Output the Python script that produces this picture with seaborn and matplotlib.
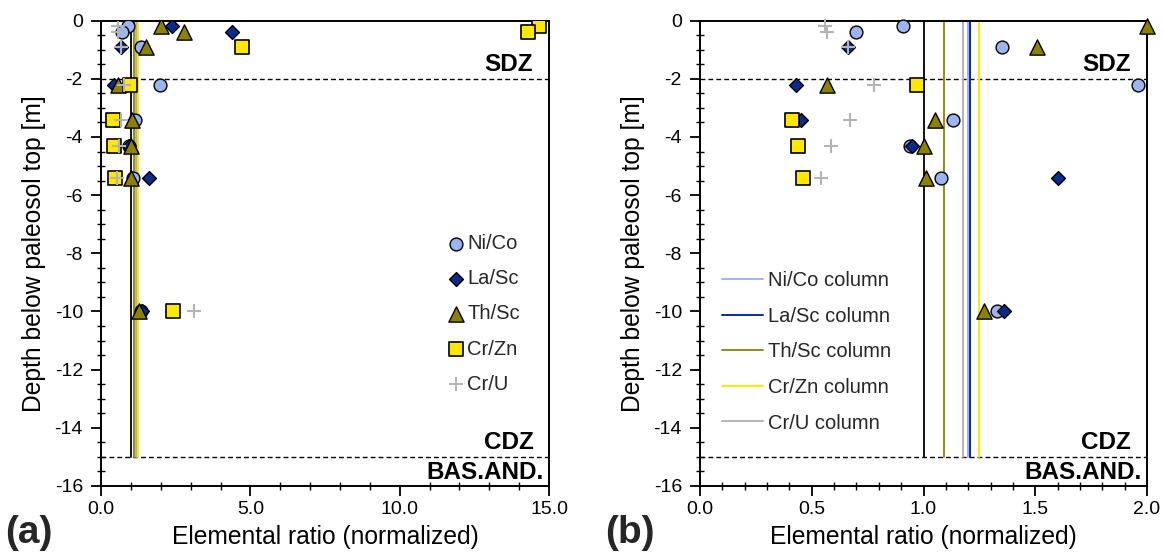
import numpy as np
import matplotlib
matplotlib.use("Agg")
import matplotlib.pyplot as plt
import matplotlib.transforms as mtransforms
from matplotlib.ticker import MultipleLocator, FormatStrFormatter
import seaborn as sns

# Sample depths below the paleosol top [m]
depth = [-0.2, -0.4, -0.9, -2.2, -3.4, -4.3, -5.4, -10.0]

# Normalized elemental ratios at each depth
ni_co = [0.91, 0.70, 1.35, 1.96, 1.13, 0.94, 1.08, 1.33]
la_sc = [2.37, 4.37, 0.66, 0.43, 0.45, 0.95, 1.60, 1.36]
th_sc = [2.00, 2.78, 1.51, 0.57, 1.05, 1.00, 1.01, 1.27]
cr_zn = [14.66, 14.28, 4.73, 0.97, 0.41, 0.44, 0.46, 2.40]
cr_u = [0.56, 0.57, 0.66, 0.78, 0.67, 0.585, 0.54, 3.12]

ratio_names = ["Ni/Co", "La/Sc", "Th/Sc", "Cr/Zn", "Cr/U"]
ratio_values = [ni_co, la_sc, th_sc, cr_zn, cr_u]

# Whole-column ratios and the unit reference
column_values = [1.20, 1.21, 1.09, 1.25, 1.175]
reference_ratio = 1.0

# Zone boundaries [m]
zone_bounds = [-2.0, -15.0]

marker_style = {
    "Ni/Co": dict(marker="o", s=85, color="#9DB4F2", edgecolor="black", linewidth=1.0),
    "La/Sc": dict(marker="D", s=50, color="#0A2A8C", edgecolor="black", linewidth=1.0),
    "Th/Sc": dict(marker="^", s=120, color="#8C8200", edgecolor="black", linewidth=1.0),
    "Cr/Zn": dict(marker="s", s=95, color="#FFE800", edgecolor="black", linewidth=1.2),
    "Cr/U": dict(marker="+", s=95, color="#B4B4B4", linewidth=1.5),
}
line_color = {
    "Ni/Co": "#9DB4F2",
    "La/Sc": "#0A2A9E",
    "Th/Sc": "#9A8C10",
    "Cr/Zn": "#FFE800",
    "Cr/U": "#B4B4B4",
}

sns.set_theme(style="ticks")
plt.rcParams["font.family"] = ["Liberation Sans", "DejaVu Sans"]
plt.rcParams["axes.unicode_minus"] = False

fig = plt.figure(figsize=(11.64, 5.57), dpi=100)
ax_a = fig.add_axes([0.0868, 0.1275, 0.3849, 0.8354])
ax_b = fig.add_axes([0.6014, 0.1275, 0.3840, 0.8354])

TICK_FS = 14
LEGEND_FS = 14.5
LABEL_FS = 17.7
ZONE_FS = 17.5


def draw_panel(ax, xmax, major, minor, zoomed):
    # vertical column lines, reference line first
    ax.plot([reference_ratio, reference_ratio], [0, zone_bounds[1]],
            color="black", lw=1.3, zorder=2)
    col_handles = []
    for name, val in zip(ratio_names, column_values):
        h, = ax.plot([val, val], [0, zone_bounds[1]], color=line_color[name],
                     lw=1.4, zorder=2, label=f"{name} column")
        col_handles.append(h)

    # zone boundaries
    for yb in zone_bounds:
        ax.axhline(yb, color="black", lw=1.0, ls=(0, (3.5, 2.2)), zorder=1)

    pts_handles = []
    for name, vals in zip(ratio_names, ratio_values):
        xs = np.array(vals, dtype=float)
        ys = np.array(depth, dtype=float)
        if zoomed:
            keep = xs <= xmax
            xs, ys = xs[keep], ys[keep]
        sns.scatterplot(x=xs, y=ys, ax=ax, legend=False, zorder=3,
                        clip_on=not zoomed, **marker_style[name])
        coll = ax.collections[-1]
        coll.set_label(name)
        pts_handles.append(coll)

    ax.set_xlim(0, xmax)
    ax.set_ylim(-16, 0)
    ax.xaxis.set_major_locator(MultipleLocator(major))
    ax.xaxis.set_minor_locator(MultipleLocator(minor))
    ax.xaxis.set_major_formatter(FormatStrFormatter("%.1f"))
    ax.yaxis.set_major_locator(MultipleLocator(2))
    ax.yaxis.set_minor_locator(MultipleLocator(0.5))
    ax.yaxis.set_major_formatter(FormatStrFormatter("%d"))
    ax.tick_params(which="major", direction="out", length=7, width=1.3,
                   labelsize=TICK_FS, color="black", labelcolor="black", pad=4)
    ax.tick_params(which="minor", direction="inout", length=6, width=1.0,
                   color="black")
    ax.tick_params(axis="y", which="major", pad=6)
    for sp in ax.spines.values():
        sp.set_color("black")
        sp.set_linewidth(1.4)
    ax.set_xlabel("Elemental ratio (normalized)", fontsize=LABEL_FS, color="black", labelpad=5)
    ax.set_ylabel("Depth below paleosol top [m]", fontsize=LABEL_FS, color="black", labelpad=6)

    trans = mtransforms.blended_transform_factory(ax.transAxes, ax.transData)
    ax.text(0.964, -1.5, "SDZ", transform=trans, ha="right", va="center",
            fontsize=ZONE_FS, fontweight="bold", color="black")
    ax.text(0.965, -14.5, "CDZ", transform=trans, ha="right", va="center",
            fontsize=ZONE_FS, fontweight="bold", color="black")
    ax.text(0.987, -15.52, "BAS.AND.", transform=trans, ha="right", va="center",
            fontsize=ZONE_FS, fontweight="bold", color="black")
    return pts_handles, col_handles


pts_a, _ = draw_panel(ax_a, 15.0, 5.0, 1.0, zoomed=False)
_, cols_b = draw_panel(ax_b, 2.0, 0.5, 0.1, zoomed=True)

ax_a.legend(handles=pts_a, loc="upper left", bbox_to_anchor=(0.734, 0.58),
            frameon=False, fontsize=LEGEND_FS, handlelength=0.8, handletextpad=0.15,
            labelspacing=0.8, borderpad=0.4, scatterpoints=1)
ax_b.legend(handles=cols_b, loc="upper left", bbox_to_anchor=(0.008, 0.50),
            frameon=False, fontsize=LEGEND_FS, handlelength=2.04, handletextpad=0.25,
            labelspacing=0.82, borderpad=0.4)

fig.text(0.004, 0.01, "(a)", fontsize=28, fontweight="bold", ha="left", va="bottom")
fig.text(0.52, 0.01, "(b)", fontsize=28, fontweight="bold", ha="left", va="bottom")

fig.savefig("out.png", dpi=100)
